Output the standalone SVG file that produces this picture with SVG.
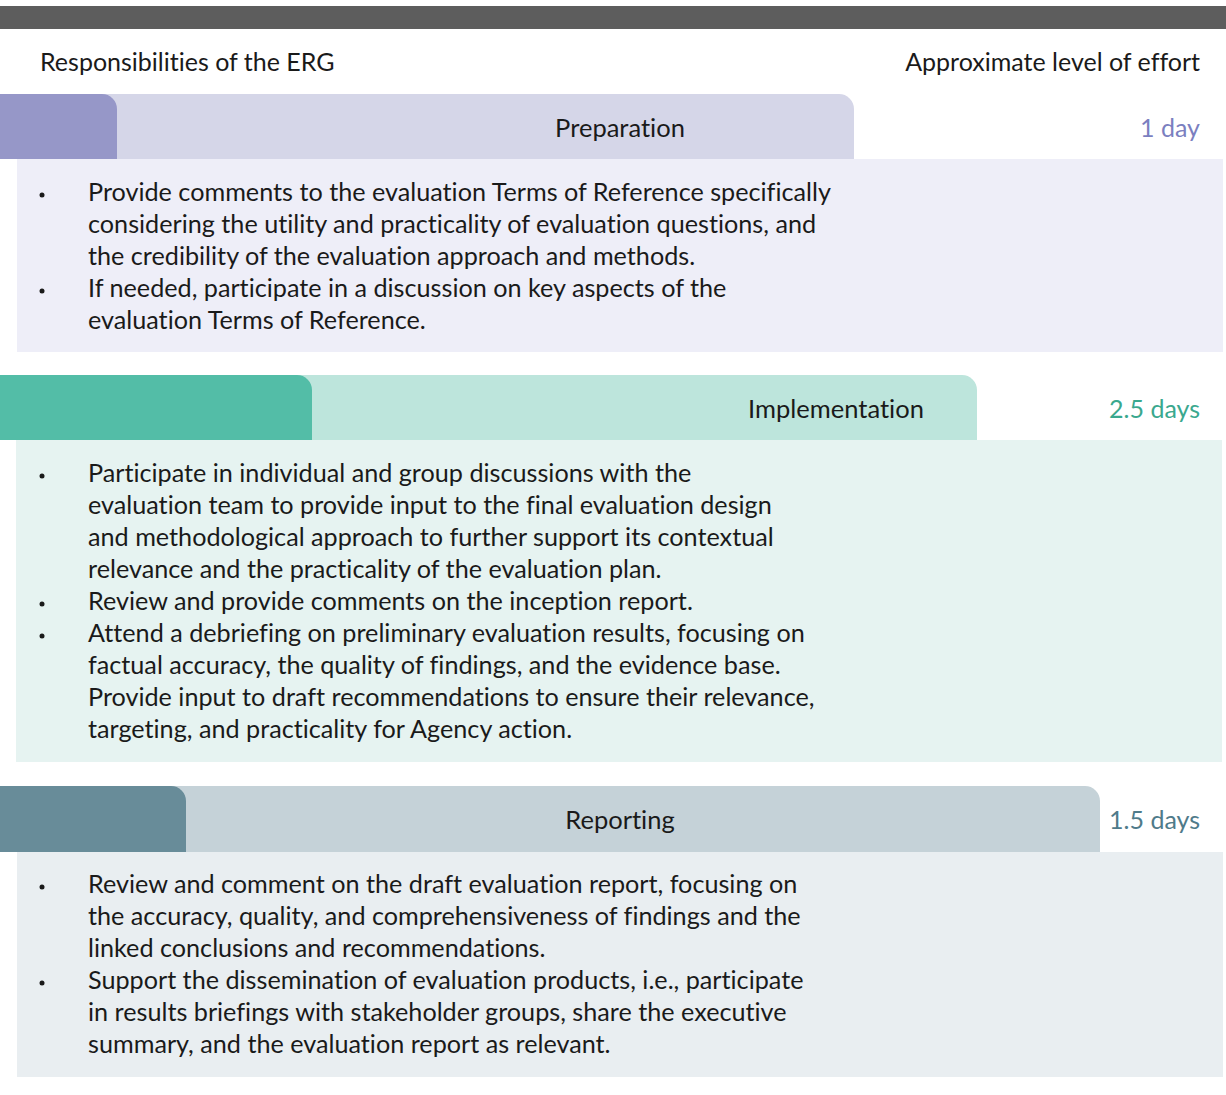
<svg xmlns="http://www.w3.org/2000/svg" width="1226" height="1095" viewBox="0 0 1226 1095">
<style>
text{font-family:Lato,"Open Sans","Liberation Sans",sans-serif;fill:#1a1a1a;font-variant-ligatures:no-common-ligatures}
.hd{font-size:25px}
.tl{font-size:25.5px;text-anchor:middle}
.ef{font-size:25px;text-anchor:end}
.b{font-size:25.2px}
.dot{fill:#1a1a1a}
</style>
<rect x="0" y="6" width="1226" height="23" fill="#5d5d5d"/>
<text class="hd" x="40" y="71">Responsibilities of the ERG</text>
<text class="hd" x="1200" y="71" text-anchor="end">Approximate level of effort</text>

<g id="preparation">
<path d="M0 94H839a15 15 0 0 1 15 15V159H0Z" fill="#d5d6e8"/>
<path d="M0 94H102a15 15 0 0 1 15 15V159H0Z" fill="#9697c8"/>
<rect x="17" y="159" width="1206" height="193" fill="#eeeef8"/>
<text class="tl" x="620" y="137">Preparation</text>
<text class="ef" x="1200" y="137" style="fill:#7b7fc0">1 day</text>
<circle class="dot" cx="42" cy="195" r="2.5"/>
<circle class="dot" cx="42" cy="291" r="2.5"/>
<text class="b" x="88" y="201">Provide comments to the evaluation Terms of Reference specifically</text>
<text class="b" x="88" y="233">considering the utility and practicality of evaluation questions, and</text>
<text class="b" x="88" y="265">the credibility of the evaluation approach and methods.</text>
<text class="b" x="88" y="297">If needed, participate in a discussion on key aspects of the</text>
<text class="b" x="88" y="329">evaluation Terms of Reference.</text>
</g>

<g id="implementation">
<path d="M0 375H962a15 15 0 0 1 15 15V440H0Z" fill="#bde5dc"/>
<path d="M0 375H297a15 15 0 0 1 15 15V440H0Z" fill="#53bda7"/>
<rect x="16" y="440" width="1206" height="322" fill="#e6f3f1"/>
<text class="tl" x="836" y="418">Implementation</text>
<text class="ef" x="1200" y="418" style="fill:#3aa88e">2.5 days</text>
<circle class="dot" cx="42" cy="476" r="2.5"/>
<circle class="dot" cx="42" cy="604" r="2.5"/>
<circle class="dot" cx="42" cy="636" r="2.5"/>
<text class="b" x="88" y="482">Participate in individual and group discussions with the</text>
<text class="b" x="88" y="514">evaluation team to provide input to the final evaluation design</text>
<text class="b" x="88" y="546">and methodological approach to further support its contextual</text>
<text class="b" x="88" y="578">relevance and the practicality of the evaluation plan.</text>
<text class="b" x="88" y="610">Review and provide comments on the inception report.</text>
<text class="b" x="88" y="642">Attend a debriefing on preliminary evaluation results, focusing on</text>
<text class="b" x="88" y="674">factual accuracy, the quality of findings, and the evidence base.</text>
<text class="b" x="88" y="706">Provide input to draft recommendations to ensure their relevance,</text>
<text class="b" x="88" y="738">targeting, and practicality for Agency action.</text>
</g>

<g id="reporting">
<path d="M0 786H1085a15 15 0 0 1 15 15V852H0Z" fill="#c5d2d8"/>
<path d="M0 786H171a15 15 0 0 1 15 15V852H0Z" fill="#688c99"/>
<rect x="17" y="852" width="1206" height="225" fill="#e9eef1"/>
<text class="tl" x="620" y="829">Reporting</text>
<text class="ef" x="1200" y="829" style="fill:#4f7b8a">1.5 days</text>
<circle class="dot" cx="42" cy="887" r="2.5"/>
<circle class="dot" cx="42" cy="983" r="2.5"/>
<text class="b" x="88" y="893">Review and comment on the draft evaluation report, focusing on</text>
<text class="b" x="88" y="925">the accuracy, quality, and comprehensiveness of findings and the</text>
<text class="b" x="88" y="957">linked conclusions and recommendations.</text>
<text class="b" x="88" y="989">Support the dissemination of evaluation products, i.e., participate</text>
<text class="b" x="88" y="1021">in results briefings with stakeholder groups, share the executive</text>
<text class="b" x="88" y="1053">summary, and the evaluation report as relevant.</text>
</g>
</svg>
